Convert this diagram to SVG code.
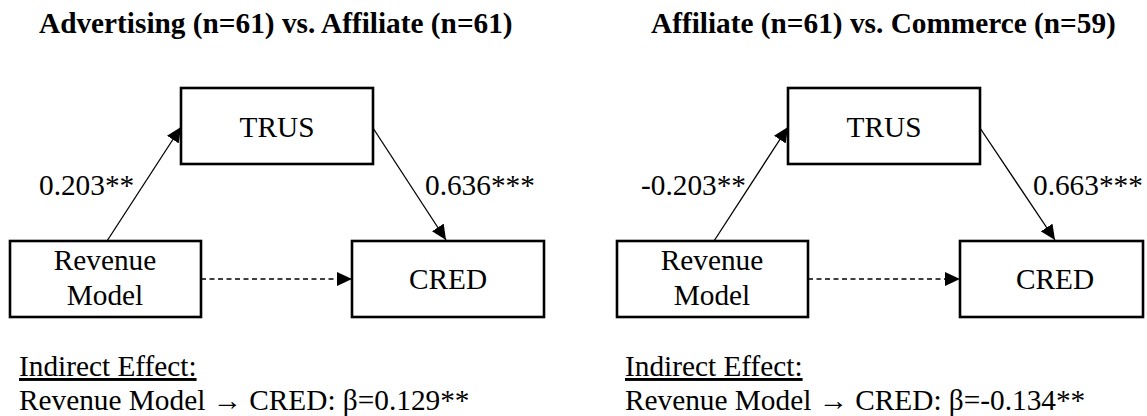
<svg xmlns="http://www.w3.org/2000/svg" width="1147" height="416" viewBox="0 0 1147 416">
<style>
text{font-family:'Liberation Serif','Tinos','Times New Roman','DejaVu Serif',serif;font-size:29.3px;fill:#000}
.title{font-weight:bold}
.mid{text-anchor:middle}
.box{fill:#fff;stroke:#000;stroke-width:2.6}
.ln{stroke:#000;stroke-width:1.3;fill:none}
.dash{stroke-dasharray:5 3.5}
.u{text-decoration:underline}
</style>
<defs>
<marker id="ah" markerUnits="userSpaceOnUse" markerWidth="16" markerHeight="14" viewBox="0 0 16 14" refX="15" refY="7" orient="auto">
<path d="M0,0 L15,7 L0,14 z" fill="#000"/>
</marker>
</defs>
<rect width="1147" height="416" fill="#fff"/>

<text class="title" font-family="Liberation Serif, serif" x="39" y="33">Advertising (n=61) vs. Affiliate (n=61)</text>
<text class="title" font-family="Liberation Serif, serif" x="651" y="33">Affiliate (n=61) vs. Commerce (n=59)</text>

<g id="connectors">
<line class="ln" x1="107" y1="241" x2="181" y2="127" marker-end="url(#ah)"/>
<line class="ln" x1="373" y1="128" x2="446" y2="240" marker-end="url(#ah)"/>
<line class="ln dash" x1="201" y1="279" x2="352" y2="279" marker-end="url(#ah)"/>
<line class="ln" x1="714" y1="241" x2="788" y2="127" marker-end="url(#ah)"/>
<line class="ln" x1="980" y1="128" x2="1055" y2="240" marker-end="url(#ah)"/>
<line class="ln dash" x1="808" y1="279" x2="960" y2="279" marker-end="url(#ah)"/>
</g>

<g id="trus-left">
<rect class="box" x="181" y="88" width="192" height="76"/>
<text class="mid" x="277" y="137">TRUS</text>
</g>
<g id="rev-left">
<rect class="box" x="10" y="241" width="191" height="76"/>
<text class="mid" x="105" y="270">Revenue</text>
<text class="mid" x="105" y="305">Model</text>
</g>
<g id="cred-left">
<rect class="box" x="352" y="241" width="192" height="76"/>
<text class="mid" x="448" y="289">CRED</text>
</g>

<g id="trus-right">
<rect class="box" x="788" y="88" width="192" height="76"/>
<text class="mid" x="884" y="137">TRUS</text>
</g>
<g id="rev-right">
<rect class="box" x="617" y="241" width="191" height="76"/>
<text class="mid" x="712" y="270">Revenue</text>
<text class="mid" x="712" y="305">Model</text>
</g>
<g id="cred-right">
<rect class="box" x="960" y="241" width="183" height="76"/>
<text class="mid" x="1055" y="289">CRED</text>
</g>

<g id="labels">
<text x="39" y="195">0.203**</text>
<text x="425" y="195">0.636***</text>
<text x="641" y="195">-0.203**</text>
<text x="1033" y="195">0.663***</text>
</g>

<g id="notes">
<text class="u" x="19" y="376">Indirect Effect:</text>
<text x="19" y="410">Revenue Model → CRED: β=0.129**</text>
<text class="u" x="625" y="376">Indirect Effect:</text>
<text x="625" y="410">Revenue Model → CRED: β=-0.134**</text>
</g>
</svg>
